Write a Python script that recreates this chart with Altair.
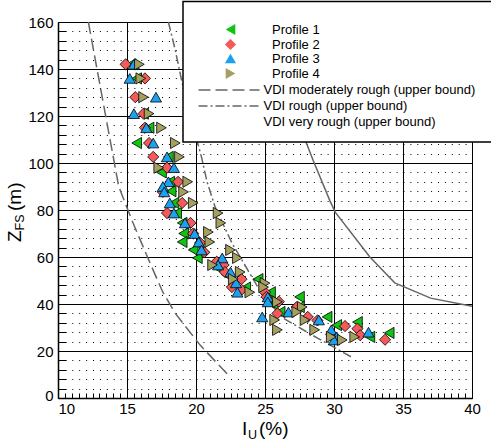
import altair as alt
import pandas as pd

FONT = "Liberation Sans"

profiles = ["Profile 1", "Profile 2", "Profile 3", "Profile 4"]
shapes = ["triangle-left", "diamond", "triangle-up", "triangle-right"]
colors = ["#12c412", "#f55a5a", "#1ea0f0", "#a5a05f"]

p1_iu = [15.3, 15.7, 16.2, 16.6, 15.7, 18.0, 17.5, 18.1, 18.2, 18.4, 18.6, 19.0, 19.1, 19.0, 19.8, 20.1, 21.4, 22.2, 24.5, 23.6, 25.4, 27.5, 25.6, 27.5, 26.1, 29.5, 31.7, 30.2, 34.0, 32.6]
p1_z = [142, 136, 121, 115, 108.5, 102.6, 96, 92, 88, 83, 78.7, 74.5, 70, 66.4, 63, 59.6, 56, 52.5, 50.6, 47, 45, 43, 40, 38.7, 36.6, 34.5, 32.3, 31, 27.7, 26]

p2_iu = [14.9, 16.3, 15.6, 16.2, 16.3, 16.6, 16.9, 17.9, 18.7, 17.6, 19.0, 17.9, 19.6, 19.8, 20.3, 20.6, 21.5, 22.0, 22.1, 23.3, 22.6, 23.3, 25.0, 25.1, 26.0, 27.3, 25.9, 28.1, 28.8, 30.8, 31.7, 31.9, 33.7]
p2_z = [142, 136, 128, 121, 115, 108.5, 102.6, 98, 92, 87.7, 83, 78.7, 74.5, 70, 66, 62, 58, 56.6, 53.6, 50.6, 47.2, 46, 45, 43, 41, 38.7, 36, 34.5, 33, 30.6, 29.5, 26.7, 24.8]

p3_iu = [15.5, 15.2, 17.1, 15.5, 16.4, 16.9, 17.9, 18.4, 18.0, 17.6, 17.7, 18.1, 18.4, 19.2, 19.9, 20.2, 20.4, 21.9, 21.6, 22.5, 22.9, 23.0, 25.2, 25.2, 26.7, 24.8, 28.9, 29.8, 32.5, 30.2, 30.0]
p3_z = [142, 136, 128, 121, 115, 108.5, 102.6, 98, 92, 90, 87.7, 83, 78.7, 74.5, 70, 66.4, 63, 59.6, 56.6, 53.6, 49, 45, 43, 40.9, 36.6, 34.5, 33.2, 29, 28, 26, 24.7]

p4_iu = [15.9, 16.0, 16.2, 16.6, 17.5, 18.5, 18.8, 17.3, 19.4, 19.1, 19.8, 21.6, 21.8, 20.9, 21.0, 22.5, 23.0, 21.2, 23.2, 22.7, 25.0, 24.9, 23.9, 25.9, 27.7, 27.3, 25.7, 27.9, 25.9, 28.6, 29.8, 31.5, 30.6]
p4_z = [142, 136, 128, 121, 115, 108.5, 102.6, 98, 92, 87.7, 83, 78.7, 74.5, 70.6, 66.4, 63, 59.6, 56.6, 53.6, 50.6, 48.9, 47.2, 45, 40.9, 38.7, 36.6, 33.2, 33.2, 29, 29, 26, 26, 24.7]

vdi_labels = ["VDI moderately rough (upper bound)", "VDI rough (upper bound)", "VDI very rough (upper bound)"]
mod_iu = [12.2, 12.7, 14.4, 15.4, 16.7, 17.6, 18.5, 20.3, 22.3]
mod_z = [160, 144, 90, 75, 57, 45, 36, 22.5, 10]
rough_iu = [18.0, 18.5, 19.0, 20.1, 20.4, 20.8, 21.4, 22.6, 23.9, 24.8, 26.3, 28.8, 31.4]
rough_z = [160, 148, 134, 109, 102.5, 92, 81, 66, 53, 44, 34, 25.5, 17]
vrough_iu = [27.9, 28.5, 29.7, 30.1, 32.6, 34.4, 37.0, 40.0]
vrough_z = [110, 101, 84, 79, 60, 49, 42.5, 39.0]

x_ticks = [10 + 0.5 * i for i in range(61)]
y_ticks = [4 * i for i in range(41)]

rows = []
for name, xs, zs in zip(profiles, [p1_iu, p2_iu, p3_iu, p4_iu], [p1_z, p2_z, p3_z, p4_z]):
    for a, b in zip(xs, zs):
        rows.append({"profile": name, "iu": a, "z": b})
pts = pd.DataFrame(rows)

lrows = []
for name, xs, zs in zip(vdi_labels, [mod_iu, rough_iu, vrough_iu], [mod_z, rough_z, vrough_z]):
    for k, (a, b) in enumerate(zip(xs, zs)):
        lrows.append({"curve": name, "iu": a, "z": b, "seq": k})
ldf = pd.DataFrame(lrows)

xscale = alt.Scale(domain=[10, 40], nice=False, zero=False)
yscale = alt.Scale(domain=[0, 160], nice=False, zero=False)

xaxis = alt.Axis(
    values=x_ticks, title=None, labelOverlap=False, labelBound=False,
    labelExpr="datum.value % 5 === 0 ? format(datum.value, 'd') : ''",
    labelFont=FONT, labelFontSize=15, labelColor="black", labelPadding=8,
    labelAlign={"condition": {"test": "datum.value == 10", "value": "left"}, "value": "center"},
    tickSize=alt.ExprRef("-5"), tickColor="black", tickWidth=1,
    domainColor="black", domainWidth=1.5,
    grid=True, gridColor="black", gridWidth=1,
    gridOpacity={"condition": {"test": "datum.value % 5 === 0", "value": 1}, "value": 0},
)
yaxis = alt.Axis(
    values=y_ticks, title=None, labelOverlap=False, labelBound=False,
    labelExpr="datum.value % 20 === 0 ? format(datum.value, 'd') : ''",
    labelFont=FONT, labelFontSize=15, labelColor="black", labelPadding=13,
    labelOffset={"condition": {"test": "datum.value == 0", "value": -3}, "value": 0},
    tickSize=alt.ExprRef("-8"), tickColor="black", tickWidth=1,
    domainColor="black", domainWidth=1.5,
    grid=True, gridColor="black", gridWidth=1,
    gridDash={"condition": {"test": "datum.value % 20 === 0", "value": []}, "value": [1, 5.9]},
)

X = alt.X("iu:Q", scale=xscale, axis=xaxis)
Y = alt.Y("z:Q", scale=yscale, axis=yaxis)

legA = alt.Legend(
    orient="none", legendX=166, legendY=1.0, title=None, padding=0,
    labelFont=FONT, labelFontSize=13, labelColor="black", labelOffset=35,
    labelLimit=0, symbolSize=125, symbolStrokeColor="black", symbolStrokeWidth=0.8,
    rowPadding=0,
)
legB = alt.Legend(
    orient="none", legendX=164.5, legendY=61.5, title=None, padding=0,
    labelFont=FONT, labelFontSize=13, labelColor="black", labelOffset=28,
    labelLimit=0, symbolType="M-6.1,0H6.1", symbolSize=100, symbolStrokeColor="#666666",
    symbolStrokeWidth=1.5, rowPadding=2,
)

lines1 = alt.Chart(ldf).transform_filter(
    alt.FieldOneOfPredicate(field="curve", oneOf=vdi_labels[:2])
).mark_line(color="#666666", strokeWidth=1.5).encode(
    x=X, y=Y, order="seq:Q",
    strokeDash=alt.StrokeDash(
        "curve:N",
        scale=alt.Scale(domain=vdi_labels, range=[[12, 5], [9, 3, 2, 3], [0, 1000]]),
        legend=legB,
    ),
)
lines2 = alt.Chart(ldf).transform_filter(
    alt.FieldEqualPredicate(field="curve", equal=vdi_labels[2])
).mark_line(color="#666666", strokeWidth=1.5).encode(x=X, y=Y, order="seq:Q", detail="curve:N")

points = alt.Chart(pts).mark_point(
    filled=True, opacity=1, size=125, stroke="black", strokeWidth=0.8
).encode(
    x=X, y=Y,
    shape=alt.Shape("profile:N", scale=alt.Scale(domain=profiles, range=shapes), legend=legA),
    fill=alt.Fill("profile:N", scale=alt.Scale(domain=profiles, range=colors), legend=legA),
)

one = pd.DataFrame({"k": [0]})
box = alt.Chart(one).mark_rect(fill="white", stroke="black", strokeWidth=1.5).encode(
    x=alt.value(125), x2=alt.value(460), y=alt.value(-20.5), y2=alt.value(120)
)

def txt(s, size, x, y, angle=0):
    return alt.Chart(one).mark_text(
        text=s, font=FONT, fontSize=size, color="black", align="left",
        baseline="alphabetic", angle=angle
    ).encode(x=alt.value(x), y=alt.value(y))

titles = [
    txt("I", 19, 184, 413),
    txt("U", 12.5, 190, 417),
    txt("(%)", 19, 201, 413),
    txt("Z", 19, -37, 220, 270),
    txt("FS", 12.5, -34, 208.4, 270),
    txt("(m)", 19, -37, 189, 270),
]

chart = alt.layer(lines1, lines2, points, box, *titles).properties(
    width=414, height=376,
    autosize=alt.AutoSizeParams(type="none"),
    padding={"left": 58, "top": 22, "right": 19, "bottom": 49},
).configure_view(stroke="black", strokeWidth=1.5).configure(background="white")

chart.save("out.html", embed_options={"renderer": "svg", "actions": False})
